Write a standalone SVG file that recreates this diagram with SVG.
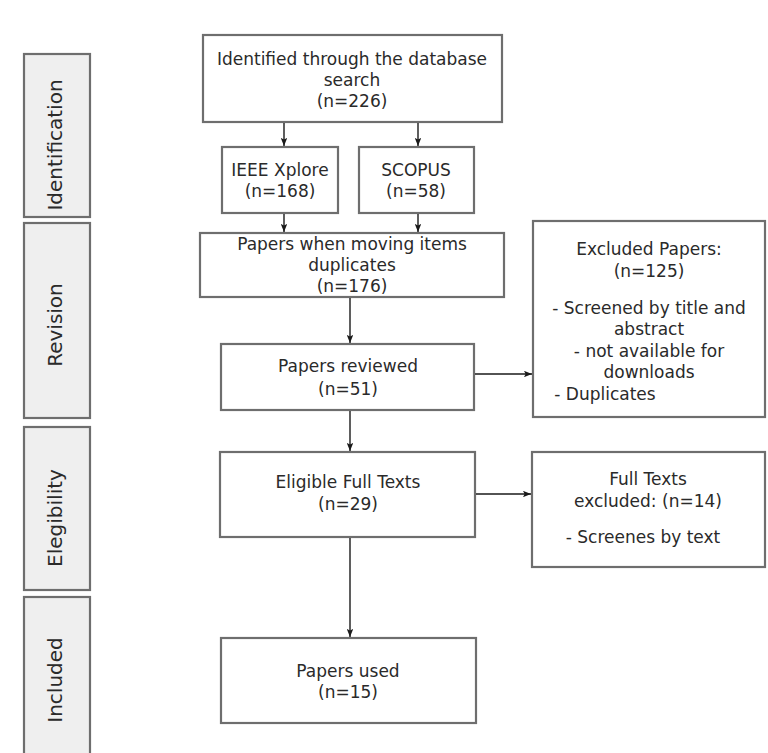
<svg xmlns="http://www.w3.org/2000/svg" width="768" height="753" viewBox="0 0 768 753">
<style>
.box{fill:#ffffff;stroke:#6e6e6e;stroke-width:2.2}
.side{fill:#efefef;stroke:#6e6e6e;stroke-width:2.2}
text{font-family:"DejaVu Sans","Noto Sans",sans-serif;font-size:17px;fill:#2a2a2a;text-anchor:middle}
.lbl{font-size:20px}
.conn{stroke:#1a1a1a;stroke-width:1.4;fill:none;marker-end:url(#ah)}
</style>
<defs>
<marker id="ah" viewBox="0 0 10 8" refX="10" refY="4" markerWidth="8" markerHeight="6.4" markerUnits="userSpaceOnUse" orient="auto">
<path d="M0,0 L10,4 L0,8 L2,4 z" fill="#1a1a1a"/>
</marker>
</defs>
<rect width="768" height="753" fill="#ffffff"/>

<g id="stage-identification">
<rect class="side" x="24" y="54" width="66" height="163"/>
<text class="lbl" transform="translate(62,145) rotate(-90)">Identification</text>
</g>
<g id="stage-revision">
<rect class="side" x="24" y="223" width="66" height="195"/>
<text class="lbl" transform="translate(62,325) rotate(-90)">Revision</text>
</g>
<g id="stage-elegibility">
<rect class="side" x="24" y="427" width="66" height="163"/>
<text class="lbl" transform="translate(62,518) rotate(-90)">Elegibility</text>
</g>
<g id="stage-included">
<rect class="side" x="24" y="597" width="66" height="170"/>
<text class="lbl" transform="translate(62,680) rotate(-90)">Included</text>
</g>

<g id="identified">
<rect class="box" x="203" y="35" width="299" height="87"/>
<text x="352" y="65">Identified through the database</text>
<text x="352" y="86">search</text>
<text x="352" y="107">(n=226)</text>
</g>
<g id="ieee">
<rect class="box" x="222" y="147" width="116" height="66"/>
<text x="280" y="176">IEEE Xplore</text>
<text x="280" y="197">(n=168)</text>
</g>
<g id="scopus">
<rect class="box" x="359" y="147" width="115" height="66"/>
<text x="416" y="176">SCOPUS</text>
<text x="416" y="197">(n=58)</text>
</g>
<g id="dedup">
<rect class="box" x="200" y="233" width="304" height="64"/>
<text x="352" y="250">Papers when moving items</text>
<text x="352" y="271">duplicates</text>
<text x="352" y="292">(n=176)</text>
</g>
<g id="reviewed">
<rect class="box" x="221" y="344" width="253" height="66"/>
<text x="348" y="372">Papers reviewed</text>
<text x="348" y="395">(n=51)</text>
</g>
<g id="excluded">
<rect class="box" x="533" y="221" width="232" height="196"/>
<text x="649" y="255">Excluded Papers:</text>
<text x="649" y="277">(n=125)</text>
<text x="649" y="314">- Screened by title and</text>
<text x="649" y="335">abstract</text>
<text x="649" y="357">- not available for</text>
<text x="649" y="378">downloads</text>
<text x="605" y="400">- Duplicates</text>
</g>
<g id="eligible">
<rect class="box" x="220" y="452" width="255" height="85"/>
<text x="348" y="488">Eligible Full Texts</text>
<text x="348" y="510">(n=29)</text>
</g>
<g id="fulltext-excluded">
<rect class="box" x="532" y="452" width="233" height="115"/>
<text x="648" y="485">Full Texts</text>
<text x="648" y="507">excluded: (n=14)</text>
<text x="643" y="543">- Screenes by text</text>
</g>
<g id="used">
<rect class="box" x="221" y="638" width="255" height="85"/>
<text x="348" y="677">Papers used</text>
<text x="348" y="698">(n=15)</text>
</g>

<g id="connectors">
<line class="conn" x1="284" y1="123" x2="284" y2="146"/>
<line class="conn" x1="418" y1="123" x2="418" y2="146"/>
<line class="conn" x1="284" y1="214" x2="284" y2="232"/>
<line class="conn" x1="418" y1="214" x2="418" y2="232"/>
<line class="conn" x1="350" y1="298" x2="350" y2="343"/>
<line class="conn" x1="350" y1="411" x2="350" y2="451"/>
<line class="conn" x1="350" y1="538" x2="350" y2="637"/>
<line class="conn" x1="475" y1="374" x2="532" y2="374"/>
<line class="conn" x1="476" y1="494" x2="531" y2="494"/>
</g>
</svg>
